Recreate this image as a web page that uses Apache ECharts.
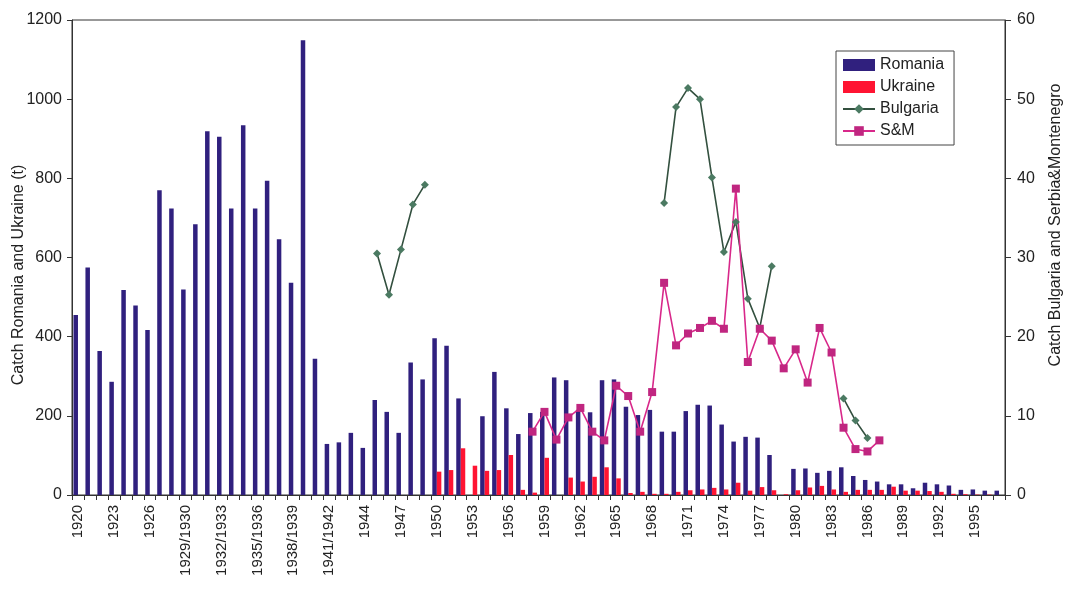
<!DOCTYPE html>
<html>
<head>
<meta charset="utf-8">
<script src="https://cdn.jsdelivr.net/npm/echarts@6/dist/echarts.min.js"></script>
<style>html,body{margin:0;padding:0;background:#fff}#c{width:1067px;height:589px}</style>
</head>
<body>
<div id="c"></div>
<script>
const categories = [
  '1920','1921','1922','1923','1924','1925','1926','1927','1928',
  '1929/1930','1930/1931','1931/1932','1932/1933','1933/1934','1934/1935','1935/1936','1936/1937','1937/1938','1938/1939','1939/1940','1940/1941','1941/1942','1942/1943','1943',
  '1944','1945','1946','1947','1948','1949','1950','1951','1952','1953','1954','1955','1956','1957','1958','1959',
  '1960','1961','1962','1963','1964','1965','1966','1967','1968','1969','1970','1971','1972','1973','1974','1975',
  '1976','1977','1978','1979','1980','1981','1982','1983','1984','1985','1986','1987','1988','1989','1990','1991',
  '1992','1993','1994','1995','1996','1997'
];
const romania = [455,575,364,286,518,479,417,770,724,519,684,919,905,724,934,724,794,646,536,1149,344,129,133,157,119,240,210,157,335,292,396,377,244,null,199,311,219,154,207,210,297,290,215,209,290,292,223,202,215,160,160,212,228,226,178,135,147,145,101,null,66,67,56,61,70,48,38,34,27,27,17,31,27,24,13,14,11,11];
const ukraine = [null,null,null,null,null,null,null,null,null,null,null,null,null,null,null,null,null,null,null,null,null,null,null,null,null,null,null,null,null,null,
  59,63,118,74,61,63,101,13,6,94,0,44,34,46,70,42,5,8,3,3,8,12,14,18,14,31,11,20,12,2,12,19,23,14,8,13,13,13,21,11,11,10,8,3,2,1,1,0];
const bulgaria = [null,null,null,null,null,null,null,null,null,null,null,null,null,null,null,null,null,null,null,null,null,null,null,null,null,
  30.5,25.3,31.0,36.7,39.2,
  null,null,null,null,null,null,null,null,null,null,null,null,null,null,null,null,null,null,null,
  36.9,49.0,51.4,50.0,40.1,30.7,34.5,24.8,21.1,28.9,
  null,null,null,null,null,
  12.2,9.4,7.2,
  null,null,null,null,null,null,null,null,null,null,null];
const sm = [null,null,null,null,null,null,null,null,null,null,null,null,null,null,null,null,null,null,null,null,null,null,null,null,null,null,null,null,null,null,null,null,null,null,null,null,null,null,
  8.0,10.5,7.0,9.8,11.0,8.0,6.9,13.8,12.5,8.0,13.0,26.8,18.9,20.4,21.1,22.0,21.0,38.7,16.8,21.0,19.5,16.0,18.4,14.2,21.1,18.0,8.5,5.8,5.5,6.9,
  null,null,null,null,null,null,null,null,null,null];
const leftTicks = [0, 1200, 200];
const rightTicks = [0, 60, 10];

const FONT = 'Liberation Sans, Arial, sans-serif';
const chart = echarts.init(document.getElementById('c'), null, {renderer: 'canvas'});
chart.setOption({
  animation: false,
  backgroundColor: '#ffffff',
  textStyle: {fontFamily: FONT},
  grid: {left: 72, right: 62, top: 20, bottom: 94, show: true, borderColor: '#333', borderWidth: 1, backgroundColor: 'transparent'},
  legend: {
    orient: 'vertical', left: 836, top: 51,
    itemWidth: 32, itemHeight: 12, itemGap: 6,
    padding: [6, 10, 6, 6],
    borderColor: '#444', borderWidth: 1, backgroundColor: '#fff',
    textStyle: {fontFamily: FONT, fontSize: 16, color: '#222'},
    data: [
      {name: 'Romania', icon: 'rect'},
      {name: 'Ukraine', icon: 'rect'},
      {name: 'Bulgaria'},
      {name: 'S&M'}
    ]
  },
  xAxis: {
    type: 'category', data: categories, boundaryGap: true,
    axisLine: {lineStyle: {color: '#333', width: 1}},
    axisTick: {show: true, interval: 0, length: 5, lineStyle: {color: '#333'}},
    axisLabel: {interval: 2, rotate: 90, margin: 10, fontSize: 15, color: '#222', fontFamily: FONT}
  },
  yAxis: [
    {
      type: 'value', min: leftTicks[0], max: leftTicks[1], interval: leftTicks[2], position: 'left',
      axisLine: {show: true, lineStyle: {color: '#333'}},
      axisTick: {show: true, length: 5, lineStyle: {color: '#333'}},
      splitLine: {show: false},
      axisLabel: {fontSize: 16, color: '#222', margin: 10, fontFamily: FONT, formatter: function (v) { return String(v); }}
    },
    {
      type: 'value', min: rightTicks[0], max: rightTicks[1], interval: rightTicks[2], position: 'right',
      axisLine: {show: true, lineStyle: {color: '#333'}},
      axisTick: {show: true, length: 6, lineStyle: {color: '#333'}},
      splitLine: {show: false},
      axisLabel: {fontSize: 16, color: '#222', margin: 12, fontFamily: FONT, formatter: function (v) { return String(v); }}
    }
  ],
  graphic: [
    {type: 'text', x: 19, y: 275, rotation: Math.PI / 2,
     style: {text: 'Catch Romania and Ukraine (t)', font: '16px ' + FONT, fill: '#222', textAlign: 'center', textVerticalAlign: 'middle'}},
    {type: 'text', x: 1056, y: 225, rotation: Math.PI / 2,
     style: {text: 'Catch Bulgaria and Serbia&Montenegro', font: '16px ' + FONT, fill: '#222', textAlign: 'center', textVerticalAlign: 'middle'}}
  ],
  series: [
    {name: 'Romania', type: 'bar', yAxisIndex: 0, data: romania, barWidth: 4.5, barGap: '0%',
     itemStyle: {color: '#30207e'}},
    {name: 'Ukraine', type: 'bar', yAxisIndex: 0, data: ukraine, barWidth: 4.5, barGap: '0%',
     itemStyle: {color: '#ff1432'}},
    {name: 'Bulgaria', type: 'line', yAxisIndex: 1, data: bulgaria, connectNulls: false,
     symbol: 'diamond', symbolSize: 8, showAllSymbol: true,
     lineStyle: {color: '#33503f', width: 1.6},
     itemStyle: {color: '#4b7a62', borderWidth: 0}},
    {name: 'S&M', type: 'line', yAxisIndex: 1, data: sm, connectNulls: false,
     symbol: 'rect', symbolSize: 8, showAllSymbol: true,
     lineStyle: {color: '#d8288a', width: 1.6},
     itemStyle: {color: '#c02680', borderWidth: 0}}
  ]
});
</script>
</body>
</html>
